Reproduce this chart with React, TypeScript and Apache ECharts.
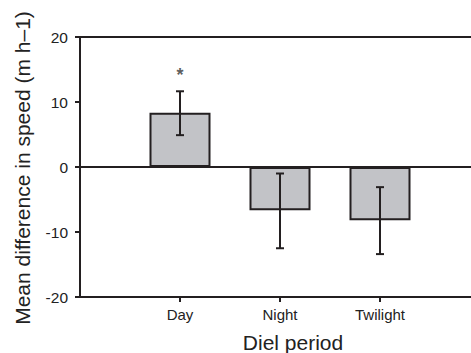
import React, { useEffect, useRef } from "react";
import * as echarts from "echarts";

const categories = ["Day", "Night", "Twilight"];
const means = [8.35, -6.65, -8.2];
const errLow = [4.9, -12.5, -13.4];
const errHigh = [11.65, -1.0, -3.1];
const significance = ["*", "", ""];
const starValue = 14.1;
const yTicks = [-20, -10, 0, 10, 20];

const INK = "#231f20";
const FONT = "Liberation Sans, Arial, sans-serif";

export default function App() {
  const ref = useRef<HTMLDivElement>(null);
  useEffect(() => {
    if (!ref.current) return;
    const chart = echarts.init(ref.current, null, { renderer: "svg" });
    const pos = categories.map((_, i) => i + 1);
    chart.setOption({
      animation: false,
      grid: { left: 80, right: 0, top: 37, bottom: 56, containLabel: false },
      xAxis: [
        {
          type: "value",
          min: 0,
          max: 3.91,
          interval: 1,
          position: "bottom",
          splitLine: { show: false },
          axisLine: { show: true, onZero: false, lineStyle: { color: INK, width: 2 } },
          axisTick: { show: false },
          axisLabel: {
            margin: 10,
            color: "#222",
            fontSize: 15,
            fontFamily: FONT,
            showMaxLabel: false,
            showMinLabel: false,
            formatter: (v: number) => (Number.isInteger(v) ? categories[v - 1] ?? "" : ""),
          },
        },
        {
          type: "value",
          min: 0,
          max: 3.91,
          position: "top",
          splitLine: { show: false },
          axisLine: { show: true, onZero: false, lineStyle: { color: INK, width: 2 } },
          axisTick: { show: false },
          axisLabel: { show: false },
        },
      ],
      yAxis: {
        type: "value",
        min: yTicks[0],
        max: yTicks[yTicks.length - 1],
        interval: 10,
        splitLine: { show: false },
        axisLine: { show: true, onZero: false, lineStyle: { color: INK, width: 2 } },
        axisTick: { show: true, length: 5, inside: false, lineStyle: { color: INK, width: 2 } },
        axisLabel: {
          margin: 12,
          color: "#222",
          fontSize: 15.5,
          fontFamily: FONT,
        },
      },
      graphic: [
        {
          type: "text",
          x: 22,
          y: 168,
          rotation: Math.PI / 2,
          style: {
            text: "Mean difference in speed (m h\u20131)",
            fontSize: 21,
            fontFamily: FONT,
            fill: "#222",
            align: "center",
            verticalAlign: "middle",
          },
        },
        {
          type: "text",
          x: 293,
          y: 342,
          style: {
            text: "Diel period",
            fontSize: 21,
            fontFamily: FONT,
            fill: "#222",
            align: "center",
            verticalAlign: "middle",
          },
        },
      ],
      series: [
        {
          type: "bar",
          barWidth: 61,
          data: means.map((m, i) => [pos[i], m]),
          itemStyle: { color: "#c2c3c7", borderColor: INK, borderWidth: 2 },
          markLine: {
            silent: true,
            symbol: "none",
            label: { show: false },
            lineStyle: { color: INK, width: 2, type: "solid" },
            data: [{ yAxis: 0 }],
          },
          z: 2,
        },
        {
          type: "custom",
          clip: false,
          data: errLow.map((lo, i) => [pos[i], lo, errHigh[i]]),
          renderItem: (params: any, api: any) => {
            const x = api.value(0);
            const lo = api.coord([x, api.value(1)]);
            const hi = api.coord([x, api.value(2)]);
            const base = api.coord([x, yTicks[0]]);
            const hw = 4;
            const style = { stroke: INK, lineWidth: 2 };
            return {
              type: "group",
              children: [
                { type: "line", shape: { x1: lo[0], y1: lo[1], x2: hi[0], y2: hi[1] }, style },
                { type: "line", shape: { x1: lo[0] - hw, y1: lo[1], x2: lo[0] + hw, y2: lo[1] }, style },
                { type: "line", shape: { x1: hi[0] - hw, y1: hi[1], x2: hi[0] + hw, y2: hi[1] }, style },
                { type: "line", shape: { x1: base[0], y1: base[1], x2: base[0], y2: base[1] + 5 }, style },
              ],
            };
          },
          z: 5,
        },
        {
          type: "scatter",
          symbolSize: 1,
          itemStyle: { color: "transparent" },
          data: significance
            .map((s, i) => (s ? { value: [pos[i], starValue], name: s } : null))
            .filter(Boolean),
          label: {
            show: true,
            position: "inside",
            formatter: (p: any) => p.name,
            fontSize: 18,
            fontWeight: "bold",
            color: "#333",
            fontFamily: FONT,
          },
        },
      ],
    });
    return () => chart.dispose();
  }, []);
  return <div ref={ref} style={{ width: 471, height: 353, position: "absolute", left: 0, top: 0, background: "#fff" }} />;
}
